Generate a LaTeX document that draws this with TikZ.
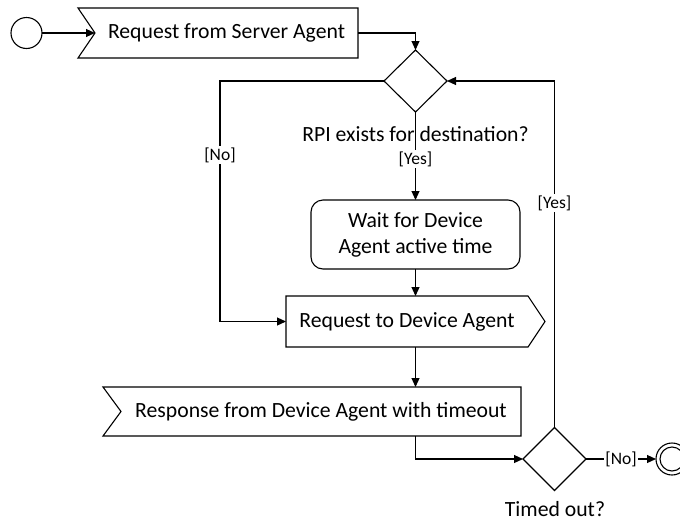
\documentclass[tikz,border=0pt]{standalone}
\usepackage{fontspec}
\setmainfont{Carlito}
\usetikzlibrary{shapes.geometric,arrows.meta,calc}
\begin{document}
\begin{tikzpicture}[x=1pt,y=-1pt,line width=1.1pt,
  every node/.style={outer sep=0pt},
  conn/.style={-{Triangle[length=9pt,width=8pt]}},
  txt/.style={inner sep=0pt,font=\fontsize{21.7}{26}\selectfont,align=center},
  lbl/.style={inner sep=1.5pt,fill=white,font=\fontsize{17.5}{20}\selectfont},
  dec/.style={diamond,draw,inner sep=0pt,minimum width=63pt,minimum height=62pt},
  roundbox/.style={draw,rounded corners=12pt,inner sep=0pt,font=\fontsize{21.7}{26}\selectfont,align=center}
]
\useasboundingbox (0,0) rectangle (680,520);
% nodes
\node[circle,draw,minimum size=31pt,inner sep=0pt] (start) at (26.5,33) {};
\node[txt,minimum width=263pt,minimum height=50pt] (req1) at (226.5,33) {Request from Server Agent};
\draw (req1.north east) -- (req1.south east) -- ($(req1.south west)+(-17,0)$) -- (req1.west) -- ($(req1.north west)+(-17,0)$) -- cycle;
\node[dec] (d1) at (415.5,81) {};
\node[txt,anchor=base] (q1) at (415.5,141) {RPI exists for destination?};
\node[roundbox,minimum width=209pt,minimum height=69pt] (wait) at (415.5,234.5) {Wait for Device\\Agent active time};
\node[txt,minimum width=242pt,minimum height=51pt] (req2) at (407,321.5) {Request to Device Agent};
\draw (req2.north west) -- (req2.north east) -- ($(req2.east)+(17,0)$) -- (req2.south east) -- (req2.south west) -- cycle;
\node[txt,minimum width=400pt,minimum height=49pt] (resp) at (321,411.5) {Response from Device Agent with timeout};
\draw (resp.north east) -- (resp.south east) -- ($(resp.south west)+(-18,0)$) -- (resp.west) -- ($(resp.north west)+(-18,0)$) -- cycle;
\node[dec,minimum height=63pt] (d2) at (554.5,459) {};
\node[txt,anchor=base] (q2) at (555,516) {Timed out?};
\node[circle,draw,minimum size=32pt,inner sep=0pt] (end) at (672,459) {};
\node[circle,draw,minimum size=24pt,inner sep=0pt] (endin) at (end.center) {};
% connectors
\draw[conn] (start) -- (req1.west);
\draw[conn] (req1.east) -| (d1.north);
\draw[conn] (d1.west) -| (220,321.5) -- (req2.west);
\node[lbl] (nol) at (220,155) {[No]};
\draw[conn] (d1.south) -- (wait.north);
\node[lbl] (yes1) at (415.5,159) {[Yes]};
\draw[conn] (wait.south) -- (wait.south |- req2.north);
\draw[conn] (wait.south |- req2.south) -- (wait.south |- resp.north);
\draw[conn] (wait.south |- resp.south) |- (d2.west);
\draw[conn] (d2.north) |- (d1.east);
\node[lbl] (yes2) at (554.5,203) {[Yes]};
\draw[conn] (d2.east) -- (end.west);
\node[lbl] (nor) at (621,459) {[No]};
\end{tikzpicture}
\end{document}
